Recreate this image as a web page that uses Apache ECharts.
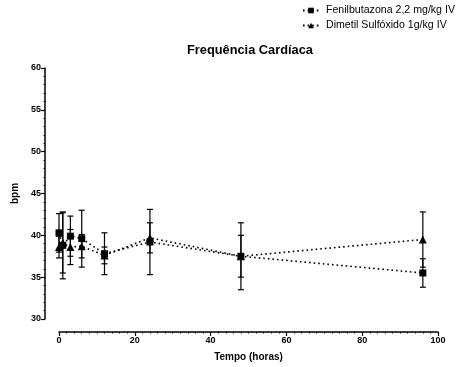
<!DOCTYPE html>
<html>
<head>
<meta charset="utf-8">
<script src="https://cdn.jsdelivr.net/npm/echarts@6/dist/echarts.min.js"></script>
<style>
  html, body { margin: 0; padding: 0; background: #fff; }
  #main { width: 456px; height: 367px; }
</style>
</head>
<body>
<div id="main"></div>
<script>
// tempo (horas) e frequência cardíaca (média ± DP)
const hours = [0, 1, 3, 6, 12, 24, 48, 96];
const fenMean = [40.3, 38.8, 39.9, 39.6, 37.8, 39.2, 37.5, 35.5];
const fenSd = [2.3, 4.0, 2.4, 3.4, 2.5, 3.9, 4.0, 1.7];
const dmsoMean = [38.6, 39.1, 38.6, 38.7, 37.6, 39.7, 37.5, 39.5];
const dmsoSd = [1.3, 3.6, 2.1, 1.4, 1.0, 1.8, 2.5, 3.3];
const yTicks = [30, 35, 40, 45, 50, 55, 60];
const xTicks = [0, 20, 40, 60, 80, 100];

const FONT = 'Liberation Sans, Arial, sans-serif';

const pairs = (mean) => hours.map((h, i) => [h, mean[i]]);
const bars = (mean, sd) => hours.map((h, i) => [h, mean[i] - sd[i], mean[i] + sd[i]]);

// barras de erro desenhadas pelas coordenadas do próprio eixo
function renderBar(params, api) {
  const x = api.value(0);
  const lo = api.coord([x, api.value(1)]);
  const hi = api.coord([x, api.value(2)]);
  const w = 3;
  const style = { stroke: '#000', lineWidth: 1.2 };
  return {
    type: 'group',
    children: [
      { type: 'line', shape: { x1: lo[0], y1: lo[1], x2: hi[0], y2: hi[1] }, style },
      { type: 'line', shape: { x1: hi[0] - w, y1: hi[1], x2: hi[0] + w, y2: hi[1] }, style },
      { type: 'line', shape: { x1: lo[0] - w, y1: lo[1], x2: lo[0] + w, y2: lo[1] }, style }
    ]
  };
}

const chart = echarts.init(document.getElementById('main'));

chart.setOption({
  animation: false,
  title: {
    text: 'Frequência Cardíaca',
    left: 182,
    top: 39,
    textStyle: { fontFamily: FONT, fontSize: 12.8, fontWeight: 'bold', color: '#000' }
  },
  legend: {
    orient: 'vertical',
    left: 297,
    top: 0,
    itemGap: 4,
    itemWidth: 16,
    itemHeight: 7,
    data: ['Fenilbutazona 2,2 mg/kg IV', 'Dimetil Sulfóxido 1g/kg IV'],
    textStyle: { fontFamily: FONT, fontSize: 10.6, color: '#000', padding: [0, 0, 0, 2] }
  },
  grid: { left: 59, right: 18, top: 68, bottom: 48 },
  xAxis: {
    type: 'value',
    min: 0,
    max: 100,
    interval: 20,
    offset: 13,
    name: 'Tempo (horas)',
    nameLocation: 'middle',
    nameGap: 20,
    nameTextStyle: { fontFamily: FONT, fontSize: 10, fontWeight: 'bold', color: '#000' },
    axisLine: { onZero: false, lineStyle: { color: '#000', width: 1.5 } },
    axisTick: { length: 4, lineStyle: { color: '#000', width: 1.2 } },
    minorTick: { show: true, splitNumber: 10, length: 1.5, lineStyle: { color: '#000' } },
    axisLabel: {
      fontFamily: FONT, fontSize: 9, fontWeight: 'bold', color: '#000', margin: 4,
      formatter: (v) => xTicks.includes(v) ? String(v) : ''
    },
    splitLine: { show: false }
  },
  yAxis: {
    type: 'value',
    min: 30,
    max: 60,
    interval: 5,
    offset: 14,
    name: 'bpm',
    nameLocation: 'middle',
    nameGap: 25,
    nameRotate: 90,
    nameTextStyle: { fontFamily: FONT, fontSize: 10, fontWeight: 'bold', color: '#000' },
    axisLine: { show: true, onZero: false, lineStyle: { color: '#000', width: 1.5 } },
    axisTick: { show: true, length: 4, lineStyle: { color: '#000', width: 1.2 } },
    minorTick: { show: true, splitNumber: 5, length: 1.5, lineStyle: { color: '#000' } },
    axisLabel: {
      fontFamily: FONT, fontSize: 9, fontWeight: 'bold', color: '#000', margin: 4,
      formatter: (v) => yTicks.includes(v) ? String(v) : ''
    },
    splitLine: { show: false }
  },
  series: [
    {
      type: 'custom',
      renderItem: renderBar,
      data: bars(fenMean, fenSd),
      encode: { x: 0, y: [1, 2] },
      z: 1,
      silent: true
    },
    {
      type: 'custom',
      renderItem: renderBar,
      data: bars(dmsoMean, dmsoSd),
      encode: { x: 0, y: [1, 2] },
      z: 1,
      silent: true
    },
    {
      name: 'Fenilbutazona 2,2 mg/kg IV',
      type: 'line',
      data: pairs(fenMean),
      symbol: 'rect',
      symbolSize: 7,
      itemStyle: { color: '#000' },
      lineStyle: { color: '#000', width: 1.6, type: [1.6, 3] },
      z: 3
    },
    {
      name: 'Dimetil Sulfóxido 1g/kg IV',
      type: 'line',
      data: pairs(dmsoMean),
      symbol: 'triangle',
      symbolSize: 8,
      itemStyle: { color: '#000' },
      lineStyle: { color: '#000', width: 1.6, type: [1.6, 3] },
      z: 3
    }
  ]
});
</script>
</body>
</html>
